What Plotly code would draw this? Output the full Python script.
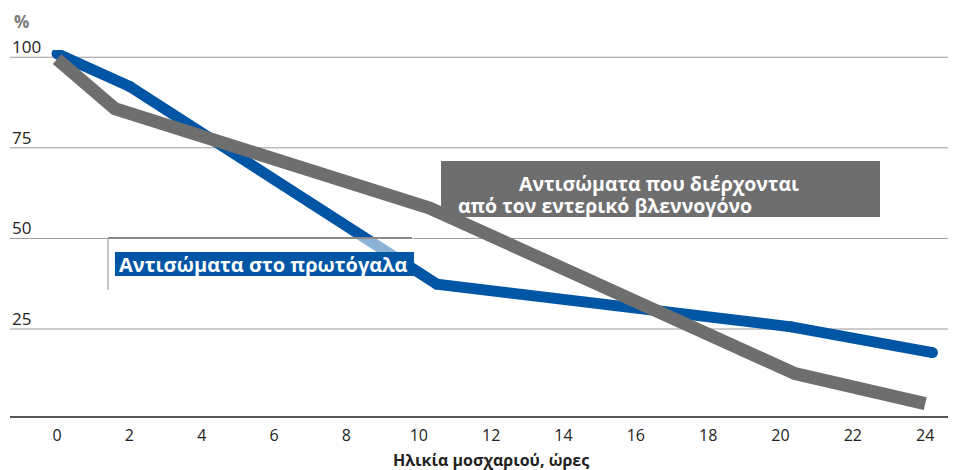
import plotly.graph_objects as go

# Data
hours_colostrum = [0, 2, 10.5, 20.3, 24.2]
colostrum_antibodies = [101, 92, 37.4, 25.6, 18.5]

hours_absorbed = [0, 1.6, 10.3, 20.4, 24]
absorbed_antibodies = [99.5, 85.8, 58.4, 12.7, 4.4]

x_ticks = list(range(0, 25, 2))
y_ticks = [25, 50, 75, 100]

BLUE = "#0055a5"
GRAY = "#6e6e6e"
FONT = "Open Sans, DejaVu Sans, sans-serif"

fig = go.Figure()
fig.add_trace(go.Scatter(
    x=hours_colostrum, y=colostrum_antibodies, mode="lines+markers",
    line=dict(color=BLUE, width=11),
    marker=dict(color=BLUE, size=11, line=dict(width=0)),
    hoverinfo="skip", showlegend=False,
))
fig.add_trace(go.Scatter(
    x=hours_absorbed, y=absorbed_antibodies, mode="lines",
    line=dict(color=GRAY, width=13),
    hoverinfo="skip", showlegend=False,
))

shapes = []
# gridlines
for v in y_ticks:
    shapes.append(dict(type="line", xref="paper", yref="y", x0=0, x1=1, y0=v, y1=v,
                       line=dict(color="#9a9a9a", width=1), layer="below"))
# colostrum label frame
shapes.append(dict(type="rect", xref="paper", yref="paper", x0=0.1045, x1=0.4307,
                   y0=0.448, y1=0.486, fillcolor="rgba(255,255,255,0.55)",
                   line=dict(width=0), layer="above"))
shapes.append(dict(type="line", xref="paper", yref="paper", x0=0.1045, x1=0.1045,
                   y0=0.344, y1=0.486, line=dict(color="#c4c4c4", width=2), layer="above"))
shapes.append(dict(type="line", xref="paper", yref="paper", x0=0.1045, x1=0.4285,
                   y0=0.486, y1=0.486, line=dict(color="#8a8a8a", width=2), layer="above"))
shapes.append(dict(type="rect", xref="paper", yref="paper", x0=0.1119, x1=0.4307,
                   y0=0.3825, y1=0.448, fillcolor=BLUE, line=dict(width=0), layer="above"))
# absorbed label box
shapes.append(dict(type="rect", xref="paper", yref="paper", x0=0.4595, x1=0.9275,
                   y0=0.544, y1=0.697, fillcolor=GRAY, line=dict(width=0), layer="above"))

annotations = []
for v in y_ticks:
    annotations.append(dict(xref="paper", yref="y", x=0, y=v, xanchor="left", yanchor="bottom",
                            text=str(v), showarrow=False, yshift=-3, xshift=0,
                            font=dict(family=FONT, size=17, color="#222222")))
annotations.append(dict(xref="paper", yref="paper", x=0.002, y=1.0, xanchor="left",
                        yanchor="bottom", yshift=15, text="<b>%</b>", showarrow=False,
                        font=dict(family=FONT, size=17, color="#7a7a7a")))
annotations.append(dict(xref="paper", yref="paper", x=0.114, y=0.415, xanchor="left",
                        yanchor="middle", text="<b>Αντισώματα στο πρωτόγαλα</b>", showarrow=False,
                        font=dict(family=FONT, size=20, color="white")))
annotations.append(dict(xref="paper", yref="paper", x=0.541, y=0.635, xanchor="left",
                        yanchor="middle", text="<b>Αντισώματα που διέρχονται</b>", showarrow=False,
                        font=dict(family=FONT, size=19.5, color="white")))
annotations.append(dict(xref="paper", yref="paper", x=0.476, y=0.575, xanchor="left",
                        yanchor="middle", text="<b>από τον εντερικό βλεννογόνο</b>", showarrow=False,
                        font=dict(family=FONT, size=19.5, color="white")))
# x-axis title
annotations.append(dict(xref="paper", yref="paper", x=0.513, y=0, xanchor="center",
                        yanchor="middle", yshift=-44, text="<b>Ηλικία μοσχαριού, ώρες</b>",
                        showarrow=False, font=dict(family=FONT, size=16, color="#222222")))

fig.update_layout(
    width=948, height=462,
    margin=dict(l=2, r=8, t=42, b=54),
    paper_bgcolor="white", plot_bgcolor="white",
    shapes=shapes, annotations=annotations,
    xaxis=dict(range=[-1.3, 24.63], tickvals=x_ticks, ticktext=[str(t) for t in x_ticks],
               showgrid=False, zeroline=False, showline=True, linecolor="#555555", linewidth=2,
               ticks="", ticklabelstandoff=4,
               tickfont=dict(family=FONT, size=16, color="#222222")),
    yaxis=dict(range=[1, 102], showgrid=False, zeroline=False, showticklabels=False,
               showline=False, ticks=""),
)

fig.write_html("out.html")
